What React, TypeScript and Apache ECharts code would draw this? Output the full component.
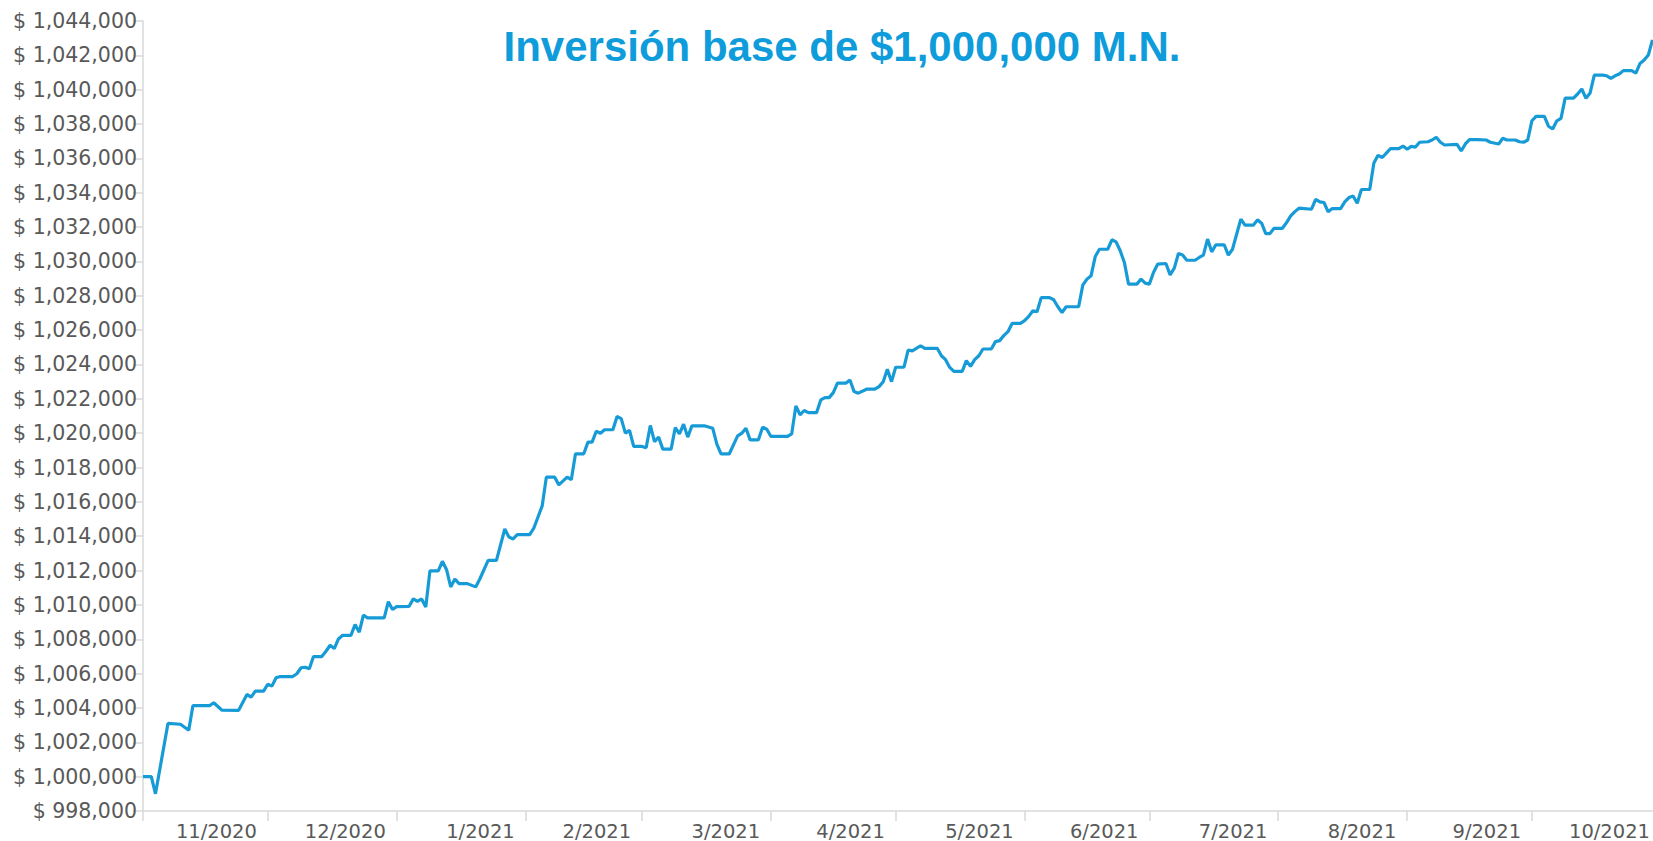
import { useEffect, useRef } from "react";
import * as echarts from "echarts";

const TITLE = "Inversión base de $1,000,000 M.N.";
const Y_MIN = 998000;
const Y_MAX = 1044000;
const Y_STEP = 2000;
const AXIS_START = "2020-11-01";
const AXIS_END = "2021-10-30";
const MONTHS = [
  "2020-11", "2020-12", "2021-01", "2021-02", "2021-03", "2021-04",
  "2021-05", "2021-06", "2021-07", "2021-08", "2021-09", "2021-10",
];

const dates = [
  "2020-11-01", "2020-11-03", "2020-11-04", "2020-11-07", "2020-11-10", "2020-11-12", "2020-11-13", "2020-11-17",
  "2020-11-18", "2020-11-20", "2020-11-24", "2020-11-26", "2020-11-27", "2020-11-28", "2020-11-30",
  "2020-12-01", "2020-12-02", "2020-12-03", "2020-12-04", "2020-12-07", "2020-12-08", "2020-12-09", "2020-12-10",
  "2020-12-11", "2020-12-12", "2020-12-14", "2020-12-15", "2020-12-16", "2020-12-17", "2020-12-18", "2020-12-19",
  "2020-12-21", "2020-12-22", "2020-12-23", "2020-12-24", "2020-12-25", "2020-12-29", "2020-12-30", "2020-12-31",
  "2021-01-01", "2021-01-04", "2021-01-05", "2021-01-06", "2021-01-07", "2021-01-08", "2021-01-09", "2021-01-11",
  "2021-01-12", "2021-01-13", "2021-01-14", "2021-01-15", "2021-01-16", "2021-01-18", "2021-01-20", "2021-01-21",
  "2021-01-23", "2021-01-25", "2021-01-27", "2021-01-28", "2021-01-29", "2021-01-30",
  "2021-02-02", "2021-02-03", "2021-02-05", "2021-02-06", "2021-02-08", "2021-02-09", "2021-02-11", "2021-02-12",
  "2021-02-13", "2021-02-15", "2021-02-16", "2021-02-17", "2021-02-18", "2021-02-19", "2021-02-20", "2021-02-22",
  "2021-02-23", "2021-02-24", "2021-02-25", "2021-02-26", "2021-02-27",
  "2021-03-01", "2021-03-02", "2021-03-03", "2021-03-04", "2021-03-05", "2021-03-06", "2021-03-08", "2021-03-09",
  "2021-03-10", "2021-03-11", "2021-03-12", "2021-03-13", "2021-03-16", "2021-03-18", "2021-03-19", "2021-03-20",
  "2021-03-22", "2021-03-24", "2021-03-25", "2021-03-26", "2021-03-27", "2021-03-29", "2021-03-30", "2021-03-31",
  "2021-04-01", "2021-04-05", "2021-04-06", "2021-04-07", "2021-04-08", "2021-04-09", "2021-04-10", "2021-04-12",
  "2021-04-13", "2021-04-14", "2021-04-15", "2021-04-16", "2021-04-17", "2021-04-19", "2021-04-20", "2021-04-21",
  "2021-04-22", "2021-04-24", "2021-04-26", "2021-04-27", "2021-04-28", "2021-04-29", "2021-04-30",
  "2021-05-01", "2021-05-03", "2021-05-04", "2021-05-05", "2021-05-07", "2021-05-08", "2021-05-11", "2021-05-12",
  "2021-05-13", "2021-05-14", "2021-05-15", "2021-05-17", "2021-05-18", "2021-05-19", "2021-05-20", "2021-05-21",
  "2021-05-22", "2021-05-24", "2021-05-25", "2021-05-26", "2021-05-27", "2021-05-28", "2021-05-29", "2021-05-31",
  "2021-06-01", "2021-06-02", "2021-06-03", "2021-06-04", "2021-06-05", "2021-06-07", "2021-06-08", "2021-06-09",
  "2021-06-10", "2021-06-11", "2021-06-14", "2021-06-15", "2021-06-16", "2021-06-17", "2021-06-18", "2021-06-19",
  "2021-06-21", "2021-06-22", "2021-06-23", "2021-06-24", "2021-06-25", "2021-06-26", "2021-06-28", "2021-06-29",
  "2021-06-30",
  "2021-07-01", "2021-07-02", "2021-07-03", "2021-07-05", "2021-07-06", "2021-07-07", "2021-07-08", "2021-07-09",
  "2021-07-10", "2021-07-12", "2021-07-13", "2021-07-14", "2021-07-15", "2021-07-16", "2021-07-17", "2021-07-19",
  "2021-07-20", "2021-07-21", "2021-07-23", "2021-07-24", "2021-07-26", "2021-07-27", "2021-07-28", "2021-07-29",
  "2021-07-30", "2021-07-31",
  "2021-08-02", "2021-08-03", "2021-08-04", "2021-08-05", "2021-08-06", "2021-08-09", "2021-08-10", "2021-08-11",
  "2021-08-12", "2021-08-13", "2021-08-14", "2021-08-16", "2021-08-17", "2021-08-18", "2021-08-19", "2021-08-20",
  "2021-08-21", "2021-08-23", "2021-08-24", "2021-08-25", "2021-08-26", "2021-08-27", "2021-08-28", "2021-08-30",
  "2021-08-31",
  "2021-09-01", "2021-09-02", "2021-09-03", "2021-09-04", "2021-09-06", "2021-09-07", "2021-09-08", "2021-09-09",
  "2021-09-10", "2021-09-13", "2021-09-14", "2021-09-15", "2021-09-16", "2021-09-18", "2021-09-20", "2021-09-21",
  "2021-09-23", "2021-09-24", "2021-09-25", "2021-09-27", "2021-09-28", "2021-09-29", "2021-09-30",
  "2021-10-01", "2021-10-02", "2021-10-04", "2021-10-05", "2021-10-06", "2021-10-07", "2021-10-08", "2021-10-09",
  "2021-10-11", "2021-10-12", "2021-10-13", "2021-10-14", "2021-10-15", "2021-10-16", "2021-10-18", "2021-10-19",
  "2021-10-20", "2021-10-21", "2021-10-22", "2021-10-23", "2021-10-25", "2021-10-26", "2021-10-27", "2021-10-28",
  "2021-10-29", "2021-10-30",
];

const values = [
  1000000, 1000000, 999000, 1003100, 1003050, 1002700, 1004130, 1004130,
  1004300, 1003870, 1003860, 1004790, 1004630, 1004980, 1004980,
  1005380, 1005270, 1005760, 1005830, 1005830, 1005990, 1006340, 1006370,
  1006280, 1006990, 1006990, 1007300, 1007650, 1007460, 1008020, 1008230,
  1008230, 1008860, 1008410, 1009400, 1009250, 1009250, 1010190, 1009730,
  1009900, 1009920, 1010350, 1010210, 1010350, 1009880, 1011980, 1011980,
  1012540, 1012050, 1011050, 1011510, 1011240, 1011240, 1011050, 1011510,
  1012590, 1012590, 1014420, 1013950, 1013840, 1014090,
  1014090, 1014480, 1015770, 1017440, 1017440, 1016990, 1017440, 1017290,
  1018800, 1018800, 1019480, 1019480, 1020110, 1020000, 1020200, 1020200,
  1020970, 1020850, 1020000, 1020160, 1019230,
  1019230, 1019150, 1020450, 1019510, 1019770, 1019070, 1019070, 1020330,
  1019960, 1020520, 1019770, 1020430, 1020430, 1020290, 1019360, 1018800,
  1018800, 1019840, 1020000, 1020290, 1019610, 1019610, 1020350, 1020230,
  1019810, 1019810, 1019960, 1021590, 1021070, 1021320, 1021200, 1021200,
  1021940, 1022070, 1022070, 1022360, 1022910, 1022910, 1023100, 1022420,
  1022330, 1022560, 1022560, 1022710, 1023000, 1023720, 1023000,
  1023840, 1023840, 1024840, 1024790, 1025090, 1024940, 1024940, 1024510,
  1024280, 1023830, 1023600, 1023600, 1024220, 1023890, 1024280, 1024510,
  1024900, 1024900, 1025330, 1025390, 1025680, 1025910, 1026390, 1026390,
  1026550, 1026800, 1027130, 1027070, 1027890, 1027890, 1027770, 1027360,
  1027030, 1027360, 1027360, 1028620, 1028970, 1029170, 1030290, 1030710,
  1030710, 1031260, 1031140, 1030620, 1029940, 1028680, 1028680, 1028970,
  1028740,
  1028680, 1029360, 1029840, 1029880, 1029220, 1029610, 1030460, 1030370,
  1030070, 1030070, 1030230, 1030370, 1031300, 1030560, 1030970, 1030970,
  1030370, 1030710, 1032460, 1032110, 1032110, 1032420, 1032230, 1031620,
  1031620, 1031930,
  1031930, 1032260, 1032650, 1032900, 1033100, 1033040, 1033620, 1033470,
  1033430, 1032890, 1033080, 1033080, 1033470, 1033720, 1033810, 1033390,
  1034190, 1034190, 1035730, 1036180, 1036050, 1036310, 1036570, 1036570,
  1036720,
  1036530, 1036700, 1036660, 1036940, 1036970, 1037070, 1037230, 1036940,
  1036780, 1036820, 1036430, 1036840, 1037090, 1037090, 1037070, 1036940,
  1036840, 1037170, 1037070, 1037070, 1036970, 1036940, 1037070,
  1038190, 1038450, 1038450, 1037870, 1037710, 1038190, 1038330, 1039510,
  1039510, 1039750, 1040040, 1039500, 1039810, 1040850, 1040850, 1040810,
  1040660, 1040810, 1040910, 1041110, 1041110, 1040970, 1041530, 1041730,
  1042020, 1042900,
];

const DAY = 86400000;

function parseLocal(s: string): number {
  const [y, m, d] = s.split("-").map(Number);
  return new Date(y, m - 1, d || 1).getTime();
}

function monthStart(ym: string): number {
  return parseLocal(ym + "-01");
}

function monthLabelAnchor(ym: string): number {
  const [y, m] = ym.split("-").map(Number);
  // labels sit right-aligned just before the next month's tick
  return new Date(y, m, 1).getTime() - 2.6 * DAY;
}

export default function App() {
  const ref = useRef<HTMLDivElement>(null);

  useEffect(() => {
    if (!ref.current) return;
    const chart = echarts.init(ref.current, undefined, { renderer: "svg" });
    const axisGray = "#d9d9d9";
    const textGray = "#595959";
    const labelFont = "'DejaVu Sans', 'Liberation Sans', Arial, sans-serif";

    chart.setOption({
      animation: false,
      backgroundColor: "#ffffff",
      grid: { left: 143, right: 0, top: 21, bottom: 30, containLabel: false },
      graphic: [
        {
          type: "text",
          x: 842,
          y: 46,
          style: {
            text: TITLE,
            fontSize: 42,
            fontWeight: "bold",
            fontFamily: "'Liberation Sans', Arial, sans-serif",
            fill: "#0f9cda",
            align: "center",
            verticalAlign: "middle",
          },
        },
      ],
      xAxis: {
        type: "value",
        min: parseLocal(AXIS_START),
        max: parseLocal(AXIS_END),
        axisLine: { show: true, lineStyle: { color: axisGray, width: 1.5 } },
        axisTick: {
          show: true,
          length: 10,
          lineStyle: { color: axisGray, width: 1.5 },
          customValues: MONTHS.map(monthStart),
        },
        axisLabel: {
          show: true,
          customValues: MONTHS.map(monthLabelAnchor),
          align: "right",
          margin: 10,
          fontSize: 19.5,
          lineHeight: 20,
          fontFamily: labelFont,
          color: textGray,
          formatter: (v: number) => {
            const d = new Date(v);
            return `${d.getMonth() + 1}/${d.getFullYear()}`;
          },
        },
        splitLine: { show: false },
      },
      yAxis: {
        type: "value",
        min: Y_MIN,
        max: Y_MAX,
        interval: Y_STEP,
        axisLine: { show: true, lineStyle: { color: axisGray, width: 1.5 } },
        axisTick: { show: true, length: 10, lineStyle: { color: axisGray, width: 1.5 } },
        axisLabel: {
          margin: 6,
          fontSize: 20.5,
          fontFamily: labelFont,
          color: textGray,
          formatter: (v: number) => "$ " + v.toLocaleString("en-US"),
        },
        splitLine: { show: false },
      },
      series: [
        {
          type: "line",
          data: dates.map((d, i) => [parseLocal(d), values[i]]),
          showSymbol: false,
          symbol: "none",
          lineStyle: { color: "#179bd7", width: 3.2 },
          itemStyle: { color: "#179bd7" },
        },
      ],
    });

    return () => {
      chart.dispose();
    };
  }, []);

  return (
    <div
      ref={ref}
      style={{ position: "absolute", left: 0, top: 0, width: 1653, height: 841 }}
    />
  );
}
